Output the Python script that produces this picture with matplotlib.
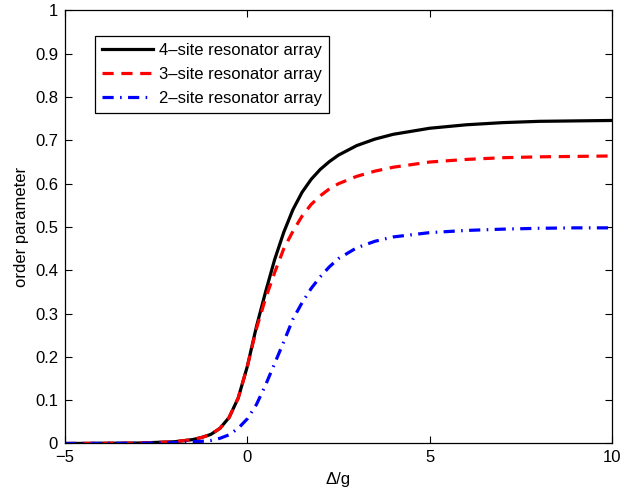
import matplotlib
matplotlib.use("Agg")
import matplotlib.pyplot as plt

# values
delta = [-5, -3, -2, -1.5, -1.25, -1, -0.75, -0.5, -0.25, 0, 0.25, 0.5, 0.75, 1,
         1.25, 1.5, 1.75, 2, 2.25, 2.5, 3, 3.5, 4, 5, 6, 7, 8, 9, 10]
site4 = [0.0, 0.001, 0.004, 0.009, 0.014, 0.021, 0.035, 0.06, 0.105, 0.178, 0.27,
         0.35, 0.425, 0.488, 0.54, 0.58, 0.61, 0.633, 0.651, 0.666, 0.688, 0.703,
         0.714, 0.728, 0.736, 0.741, 0.744, 0.745, 0.746]
site3 = [0.0, 0.001, 0.004, 0.009, 0.014, 0.021, 0.035, 0.06, 0.105, 0.178, 0.265,
         0.335, 0.395, 0.45, 0.49, 0.525, 0.552, 0.572, 0.588, 0.6, 0.617, 0.629,
         0.638, 0.65, 0.656, 0.66, 0.662, 0.663, 0.664]
site2 = [0.0, 0.0005, 0.002, 0.004, 0.005, 0.007, 0.012, 0.02, 0.035, 0.057, 0.09,
         0.135, 0.185, 0.235, 0.287, 0.325, 0.358, 0.385, 0.408, 0.427, 0.452, 0.467,
         0.477, 0.487, 0.492, 0.495, 0.497, 0.498, 0.498]
labels = ["4\u2013site resonator array", "3\u2013site resonator array",
          "2\u2013site resonator array"]

plt.rcParams['font.family'] = ['Liberation Sans', 'DejaVu Sans']

fig = plt.figure(figsize=(6.34, 4.92), dpi=100)
ax = fig.add_axes([0.1025, 0.0986, 0.8628, 0.8801])

ax.plot(delta, site4, color='black', lw=2.3, label=labels[0])
ax.plot(delta, site3, color='red', lw=2.3, ls=(0, (3.5, 2.4)), label=labels[1])
ax.plot(delta, site2, color='blue', lw=2.3, ls=(0, (3.5, 2.0, 0.5, 2.0)), label=labels[2])

ax.set_xlim(-5, 10)
ax.set_ylim(0, 1)
ax.set_xticks([-5, 0, 5, 10])
ax.set_xticklabels(['\u22125', '0', '5', '10'])
ax.set_yticks([i / 10 for i in range(11)])
ax.set_yticklabels(['0', '0.1', '0.2', '0.3', '0.4', '0.5', '0.6', '0.7', '0.8', '0.9', '1'])
ax.tick_params(direction='in', top=True, right=True, labelsize=12, length=5, width=0.8, pad=5)
for s in ax.spines.values():
    s.set_linewidth(0.9)

ax.set_xlabel('\u0394/g', fontsize=12, labelpad=5)
ax.set_ylabel('order parameter', fontsize=12, labelpad=4)

leg = ax.legend(loc='upper left', bbox_to_anchor=(0.055, 0.94), fontsize=12,
                fancybox=False, edgecolor='black', framealpha=1, handlelength=3.1,
                borderpad=0.4, labelspacing=0.54, handletextpad=0.35, borderaxespad=0)
leg.get_frame().set_linewidth(0.9)

fig.savefig('out.png', dpi=100)
